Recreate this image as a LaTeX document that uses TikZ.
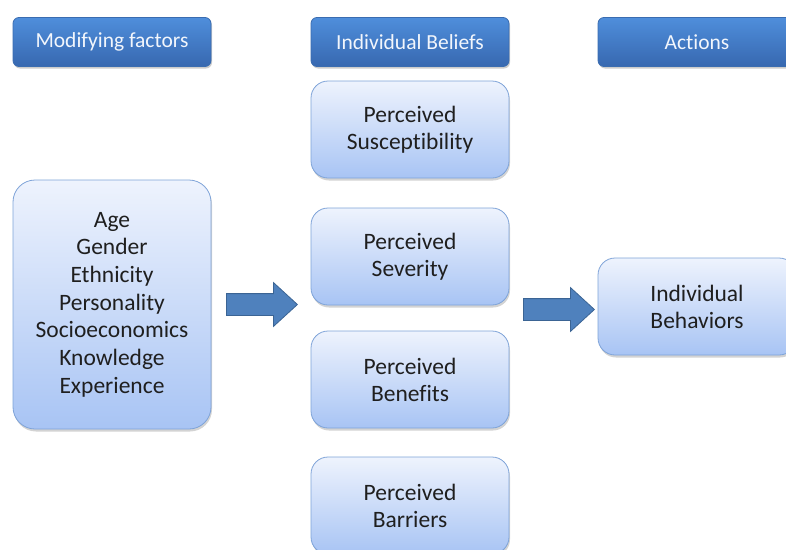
\documentclass[tikz,border=0pt]{standalone}
\usepackage{fontspec}
\setmainfont[Ligatures={NoCommon}]{Carlito}
\usetikzlibrary{shadows,shapes.arrows,calc}
\definecolor{hdtop}{HTML}{4F8EDB}
\definecolor{hdbot}{HTML}{3768B0}
\definecolor{hdline}{HTML}{3A6CB0}
\definecolor{bxtop}{HTML}{EEF3FD}
\definecolor{bxbot}{HTML}{A8C4F4}
\definecolor{bxline}{HTML}{7EA3D8}
\definecolor{arfill}{HTML}{4F81BD}
\definecolor{arline}{HTML}{3B6494}
\definecolor{hdtext}{HTML}{F2F6FC}
\tikzset{
  header/.style={draw=hdline, line width=0.8pt, rounded corners=6pt, top color=hdtop, bottom color=hdbot,
    minimum width=198pt, minimum height=49pt, inner sep=0pt, text=hdtext, font=\fontsize{21.5}{25}\selectfont,
    drop shadow={shadow xshift=1pt, shadow yshift=-2pt, opacity=0.4}},
  belief/.style={draw=bxline, line width=0.8pt, rounded corners=17pt, top color=bxtop, bottom color=bxbot,
    minimum width=198pt, minimum height=97pt, inner sep=0pt, align=center, text=black!88,
    font=\fontsize{23.5}{27}\selectfont,
    drop shadow={shadow xshift=1pt, shadow yshift=-2.5pt, opacity=0.35}},
  bigarrow/.style={single arrow, draw=arline, line width=0.8pt, fill=arfill, minimum height=71pt,
    minimum width=0pt, single arrow head extend=11pt, inner sep=0pt, outer sep=0pt, single arrow tip angle=85,
    anchor=tail}
}
\begin{document}
\begin{tikzpicture}[x=1pt,y=-1pt]
\useasboundingbox (0,0) rectangle (786,549);
\clip (0,0) rectangle (786,549);
\node[header] (h1) at (112,42) {Modifying factors};
\node[header] (h2) at (410,42) {Individual Beliefs};
\node[header] (h3) at (697,42) {Actions};
\node[belief, minimum height=249pt, rounded corners=22pt, font=\fontsize{23.5}{27.7}\selectfont] (mod) at (112,304.5)
  {Age\\Gender\\Ethnicity\\Personality\\Socioeconomics\\Knowledge\\Experience};
\node[belief] (b1) at (410,129.5) {Perceived\\Susceptibility};
\node[belief] (b2) at (410,256.5) {Perceived\\Severity};
\node[belief] (b3) at (410,379.5) {Perceived\\Benefits};
\node[belief] (b4) at (410,505.5) {Perceived\\Barriers};
\node[belief] (beh) at (697,306.5) {Individual\\Behaviors};
\node[bigarrow] (a1) at ($(mod.east)+(15,0)$) {\rule{0pt}{21pt}};
\node[bigarrow] (a2) at ($(b2.east |- beh.west)+(14,3)$) {\rule{0pt}{21pt}};
\end{tikzpicture}
\end{document}
